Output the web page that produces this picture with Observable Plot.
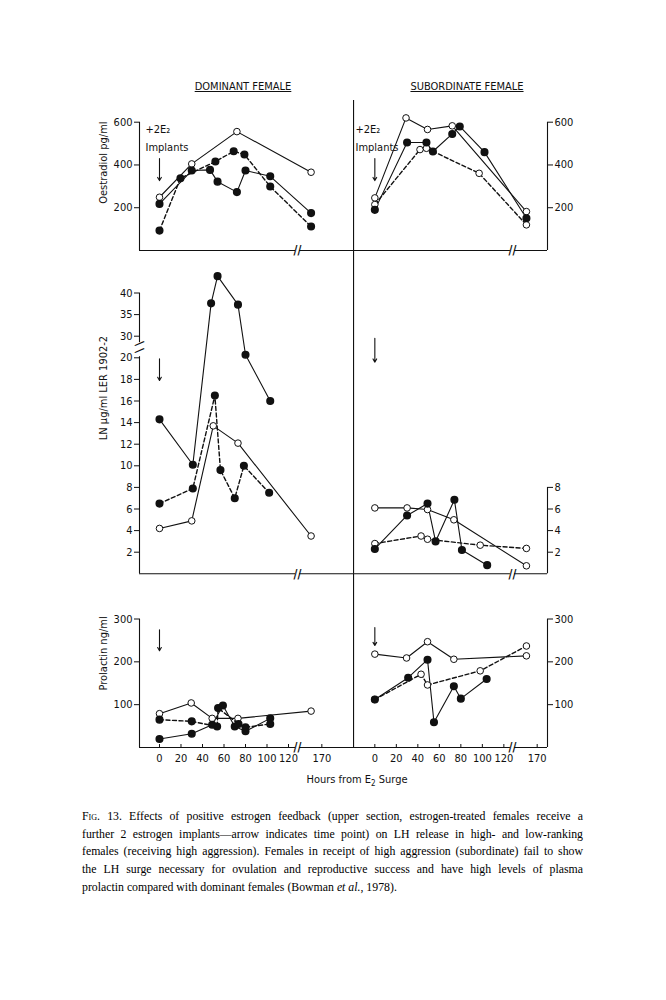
<!DOCTYPE html>
<html>
<head>
<meta charset="utf-8">
<script src="https://cdn.jsdelivr.net/npm/d3@7"></script>
<script src="https://cdn.jsdelivr.net/npm/@observablehq/plot@0.6"></script>
<style>
html,body{margin:0;padding:0;background:#fff;}
#page{position:relative;width:666px;height:1000px;overflow:hidden;background:#fff;color:#111;}
.lbl{position:absolute;font-family:"Liberation Sans Narrow","DejaVu Sans Condensed",sans-serif;white-space:nowrap;transform:translateX(-50%);color:#111;}
.title{top:80px;font-size:11px;text-decoration:underline;}
.xlabel{top:773px;font-size:11px;}
.xlabel sub{font-size:8px;vertical-align:-3px;}
.caption{position:absolute;left:82px;top:808px;width:501px;font-family:"Liberation Serif","Times New Roman",serif;font-size:11.8px;line-height:17.7px;color:#000;}
.caption div{text-align:justify;text-align-last:justify;white-space:nowrap;}
.caption div.last{text-align-last:left;}
.sc{font-variant:small-caps;}
</style>
</head>
<body>
<div id="page">
  <div class="lbl title" style="left:243px">DOMINANT FEMALE</div>
  <div class="lbl title" style="left:467px">SUBORDINATE FEMALE</div>
  <div class="lbl xlabel" style="left:357px">Hours from E<sub>2</sub> Surge</div>
  <div class="caption">
    <div><span class="sc">Fig.</span> 13. Effects of positive estrogen feedback (upper section, estrogen-treated females receive a</div>
    <div>further 2 estrogen implants—arrow indicates time point) on LH release in high- and low-ranking</div>
    <div>females (receiving high aggression). Females in receipt of high aggression (subordinate) fail to show</div>
    <div>the LH surge necessary for ovulation and reproductive success and have high levels of plasma</div>
    <div class="last">prolactin compared with dominant females (Bowman <i>et al.</i>, 1978).</div>
  </div>
</div>
<script>
// ---------- data: [hours from E2 surge, value] ----------
// Oestradiol pg/ml
const oeDomOpen   = [[0,249],[30,405],[72,556],[160,366]];
const oeDomFilled = [[0,218],[30,374],[47,377],[54,322],[72,273],[80,374],[103,347],[160,175]];
const oeDomDashed = [[0,93],[19.5,338],[52,416],[69,464],[79,449],[103,299],[160,112]];
const oeSubOpen   = [[0,246],[29,620],[49,566],[72,583],[160,182]];
const oeSubFilled = [[0,190],[30,505],[48,505],[54,463],[72,545],[79,580],[102,460],[160,151]];
const oeSubDashed = [[0,215],[42,472],[48,478],[97,361],[160,120]];
// LH µg/ml
const lhDomHigh   = [[0,14.3],[31,10.1],[48,37.6],[54,43.9],[73,37.3],[80,21.4],[103,16]];
const lhDomDashed = [[0,6.5],[31,7.9],[51.5,16.5],[56.7,9.6],[70,7],[78.5,10],[102,7.5]];
const lhDomOpen   = [[0,4.2],[30,4.9],[50,13.7],[73,12.1],[160,3.5]];
const lhSubOpen   = [[0,6.1],[30,6.1],[49,5.95],[73.5,5],[160,0.74]];
const lhSubFilled = [[0,2.3],[30,5.4],[49,6.5],[56.5,3],[74,6.85],[81,2.2],[104.5,0.8]];
const lhSubDashed = [[0,2.8],[43,3.5],[49,3.2],[98,2.65],[160,2.35]];
// Prolactin ng/ml
const prlDomOpen   = [[0,79],[29.5,104],[49,68],[73,68],[160,85]];
const prlDomFilled = [[0,20],[30,32],[49,53],[59,98],[70,49],[80,38],[103,68]];
const prlDomDashed = [[0,65],[30,61],[53.6,49],[54.5,92],[73.5,55],[80,47],[103,55]];
const prlSubOpen   = [[0,218],[29.5,209],[49,247],[73.5,206],[160,214]];
const prlSubFilled = [[0,112],[31,163],[49,205],[55,59],[73.5,143],[80,114],[104,160]];
const prlSubDashed = [[0,112],[43,171],[49,146],[98,179],[160,237]];

// tick labels
const hourTicks = [0,20,40,60,80,100,120,170];
const oeTicks = [200,400,600];
const lhTicksLeft = [2,4,6,8,10,12,14,16,18,20,30,35,40];
const lhTicksRight = [2,4,6,8];
const prlTicks = [100,200,300];

// annotations: arrows mark the time of the 2 E2 implants (hour 0)
const oeArrow = [430,327], lhArrowDom = [19.9,17.9], lhArrowSub = [21.8,19.6];
const prlArrowDom = [275,226], prlArrowSub = [280,238];

// ---------- scale helpers (axis breaks) ----------
const BREAK_SHIFT = 19;     // hours cut out by the x-axis break
const SUB_OFFSET = 200.3;   // x offset of the subordinate panels
const X_DOMAIN = [-18.6, 360.9];
const DIVIDER = 180.5;
const X_BREAKS = [128.4, 328.3];
const xPos = (side, h) => (h >= 150 ? h - BREAK_SHIFT : h) + (side === "sub" ? SUB_OFFSET : 0);
const lhPos = v => v <= 20 ? v : v < 30 ? 20 + (v - 20) * 0.2 : 22 + (v - 30) * 0.4;

const FONT = '"Liberation Sans Narrow","DejaVu Sans Condensed",sans-serif';
const INK = "#111";

function table(list, yf = v => v) {
  return list.flatMap(({id, side, pts, filled, dashed}) =>
    pts.map(([h, v]) => ({id, side, h, v, x: xPos(side, h), y: yf(v), filled, dashed})));
}

function xAxisLine(gapUnits) {
  const segs = [];
  let start = X_DOMAIN[0];
  for (const b of X_BREAKS) { segs.push([start, b - gapUnits]); start = b + gapUnits; }
  segs.push([start, X_DOMAIN[1]]);
  return [
    Plot.ruleY(segs, {x1: d => d[0], x2: d => d[1], y: () => 0, stroke: INK, strokeWidth: 1.1}),
    Plot.text(X_BREAKS, {x: d => d, y: () => 0, text: () => "/", dx: -2, fontSize: 12, fontWeight: "bold", fill: INK}),
    Plot.text(X_BREAKS, {x: d => d, y: () => 0, text: () => "/", dx: 2, fontSize: 12, fontWeight: "bold", fill: INK})
  ];
}

function seriesMarks(data) {
  return [
    Plot.line(data.filter(d => !d.dashed), {x: "x", y: "y", z: "id", stroke: INK, strokeWidth: 1.1}),
    Plot.line(data.filter(d => d.dashed), {x: "x", y: "y", z: "id", stroke: INK, strokeWidth: 1.4, strokeDasharray: "4,2.5"}),
    Plot.dot(data.filter(d => !d.filled), {x: "x", y: "y", r: 3.3, fill: "white", stroke: INK, strokeWidth: 1}),
    Plot.dot(data.filter(d => d.filled), {x: "x", y: "y", r: 3.3, fill: INK, stroke: INK})
  ];
}

function arrows(list) {
  return Plot.arrow(list, {x1: d => xPos(d.side, 0), x2: d => xPos(d.side, 0), y1: d => d.y1, y2: d => d.y2,
    stroke: INK, strokeWidth: 1.1, headLength: 5});
}

function yTitle(text, y) {
  return Plot.text([text], {x: () => -52, y: () => y, rotate: -90, fontSize: 11, fill: INK});
}

function place(svg, top) {
  svg.style.position = "absolute";
  svg.style.left = "0px";
  svg.style.top = top + "px";
  document.getElementById("page").appendChild(svg);
}

const baseStyle = {fontFamily: FONT, fontSize: "11px", background: "transparent", overflow: "visible", color: INK};

// ---------- row 1: Oestradiol ----------
{
  const data = table([
    {id: "do", side: "dom", pts: oeDomOpen, filled: false, dashed: false},
    {id: "df", side: "dom", pts: oeDomFilled, filled: true, dashed: false},
    {id: "dd", side: "dom", pts: oeDomDashed, filled: true, dashed: true},
    {id: "so", side: "sub", pts: oeSubOpen, filled: false, dashed: false},
    {id: "sf", side: "sub", pts: oeSubFilled, filled: true, dashed: false},
    {id: "sd", side: "sub", pts: oeSubDashed, filled: false, dashed: true}
  ]);
  const svg = Plot.plot({
    width: 666, height: 200, marginLeft: 139, marginRight: 119, marginTop: 40, marginBottom: 10,
    x: {domain: X_DOMAIN, axis: null},
    y: {domain: [0, 600], range: [190, 61.7]},
    style: baseStyle,
    marks: [
      Plot.ruleX([X_DOMAIN[0]], {y1: () => 0, y2: () => 600, stroke: INK, strokeWidth: 1.1}),
      Plot.ruleX([X_DOMAIN[1]], {y1: () => 0, y2: () => 600, stroke: INK, strokeWidth: 1.1}),
      Plot.ruleX([DIVIDER], {stroke: INK, strokeWidth: 1.1}),
      ...xAxisLine(1.9),
      Plot.axisY(oeTicks, {anchor: "left", tickSize: 5, tickPadding: 2, fontSize: 11, label: null}),
      Plot.axisY(oeTicks, {anchor: "right", tickSize: 5, tickPadding: 2, fontSize: 11, label: null}),
      yTitle("Oestradiol pg/ml", 411),
      Plot.text(["+2E₂", "+2E₂"], {x: (d, i) => i ? 182.3 : -13, y: () => 566, textAnchor: "start", fontSize: 11, fill: INK}),
      Plot.text(["Implants", "Implants"], {x: (d, i) => i ? 182.3 : -13, y: () => 481, textAnchor: "start", fontSize: 11, fill: INK}),
      arrows([{side: "dom", y1: oeArrow[0], y2: oeArrow[1]}, {side: "sub", y1: oeArrow[0], y2: oeArrow[1]}]),
      ...seriesMarks(data)
    ]
  });
  place(svg, 60);
}

// ---------- row 2: LH ----------
{
  const data = table([
    {id: "dh", side: "dom", pts: lhDomHigh, filled: true, dashed: false},
    {id: "dd", side: "dom", pts: lhDomDashed, filled: true, dashed: true},
    {id: "do", side: "dom", pts: lhDomOpen, filled: false, dashed: false},
    {id: "so", side: "sub", pts: lhSubOpen, filled: false, dashed: false},
    {id: "sf", side: "sub", pts: lhSubFilled, filled: true, dashed: false},
    {id: "sd", side: "sub", pts: lhSubDashed, filled: false, dashed: true}
  ], lhPos);
  const leftTickPos = lhTicksLeft.map(lhPos);
  const leftLabel = new Map(leftTickPos.map((p, i) => [p, String(lhTicksLeft[i])]));
  const svg = Plot.plot({
    width: 666, height: 340, marginLeft: 139, marginRight: 119, marginTop: 0, marginBottom: 16.7,
    x: {domain: X_DOMAIN, axis: null},
    y: {domain: [0, 26], range: [323.3, 42.5]},
    style: baseStyle,
    marks: [
      Plot.ruleX([X_DOMAIN[0]], {y1: () => 0, y2: () => lhPos(20.5), stroke: INK, strokeWidth: 1.1}),
      Plot.ruleX([X_DOMAIN[0]], {y1: () => lhPos(27), y2: () => lhPos(40), stroke: INK, strokeWidth: 1.1}),
      Plot.text(["/", "/"], {x: () => X_DOMAIN[0], y: (d, i) => lhPos(i ? 26.6 : 23.4), rotate: 50, fontSize: 12, fontWeight: "bold", fill: INK}),
      Plot.ruleX([X_DOMAIN[1]], {y1: () => 0, y2: () => 8, stroke: INK, strokeWidth: 1.1}),
      Plot.ruleX([DIVIDER], {stroke: INK, strokeWidth: 1.1}),
      ...xAxisLine(1.9),
      Plot.axisY(leftTickPos, {anchor: "left", tickSize: 5, tickPadding: 2, fontSize: 11, label: null, tickFormat: p => leftLabel.get(p)}),
      Plot.axisY(lhTicksRight, {anchor: "right", tickSize: 5, tickPadding: 2, fontSize: 11, label: null}),
      yTitle("LN µg/ml LER 1902-2", 17.2),
      arrows([{side: "dom", y1: lhArrowDom[0], y2: lhArrowDom[1]}, {side: "sub", y1: lhArrowSub[0], y2: lhArrowSub[1]}]),
      ...seriesMarks(data)
    ]
  });
  place(svg, 250);
}

// ---------- row 3: Prolactin ----------
{
  const data = table([
    {id: "do", side: "dom", pts: prlDomOpen, filled: false, dashed: false},
    {id: "df", side: "dom", pts: prlDomFilled, filled: true, dashed: false},
    {id: "dd", side: "dom", pts: prlDomDashed, filled: true, dashed: true},
    {id: "so", side: "sub", pts: prlSubOpen, filled: false, dashed: false},
    {id: "sf", side: "sub", pts: prlSubFilled, filled: true, dashed: false},
    {id: "sd", side: "sub", pts: prlSubDashed, filled: false, dashed: true}
  ]);
  const xt = [];
  for (const side of ["dom", "sub"]) for (const h of hourTicks) xt.push({p: xPos(side, h), h});
  const xLabel = new Map(xt.map(d => [d.p, String(d.h)]));
  const svg = Plot.plot({
    width: 666, height: 220, marginLeft: 139, marginRight: 119, marginTop: 13.3, marginBottom: 33,
    x: {domain: X_DOMAIN},
    y: {domain: [0, 300], range: [187, 58.5]},
    style: baseStyle,
    marks: [
      Plot.ruleX([X_DOMAIN[0]], {y1: () => 0, y2: () => 300, stroke: INK, strokeWidth: 1.1}),
      Plot.ruleX([X_DOMAIN[1]], {y1: () => 0, y2: () => 300, stroke: INK, strokeWidth: 1.1}),
      Plot.ruleX([DIVIDER], {stroke: INK, strokeWidth: 1.1}),
      ...xAxisLine(1.9),
      Plot.ruleX(xt.map(d => d.p), {y1: () => 0, y2: () => 7, stroke: INK, strokeWidth: 1}),
      Plot.axisX(xt.map(d => d.p), {anchor: "bottom", tickSize: 0, tickPadding: 7, fontSize: 11, label: null, tickFormat: p => xLabel.get(p)}),
      Plot.axisY(prlTicks, {anchor: "left", tickSize: 5, tickPadding: 2, fontSize: 11, label: null}),
      Plot.axisY(prlTicks, {anchor: "right", tickSize: 5, tickPadding: 2, fontSize: 11, label: null}),
      yTitle("Prolactin ng/ml", 219.5),
      arrows([{side: "dom", y1: prlArrowDom[0], y2: prlArrowDom[1]}, {side: "sub", y1: prlArrowSub[0], y2: prlArrowSub[1]}]),
      ...seriesMarks(data)
    ]
  });
  place(svg, 560);
}
</script>
</body>
</html>
